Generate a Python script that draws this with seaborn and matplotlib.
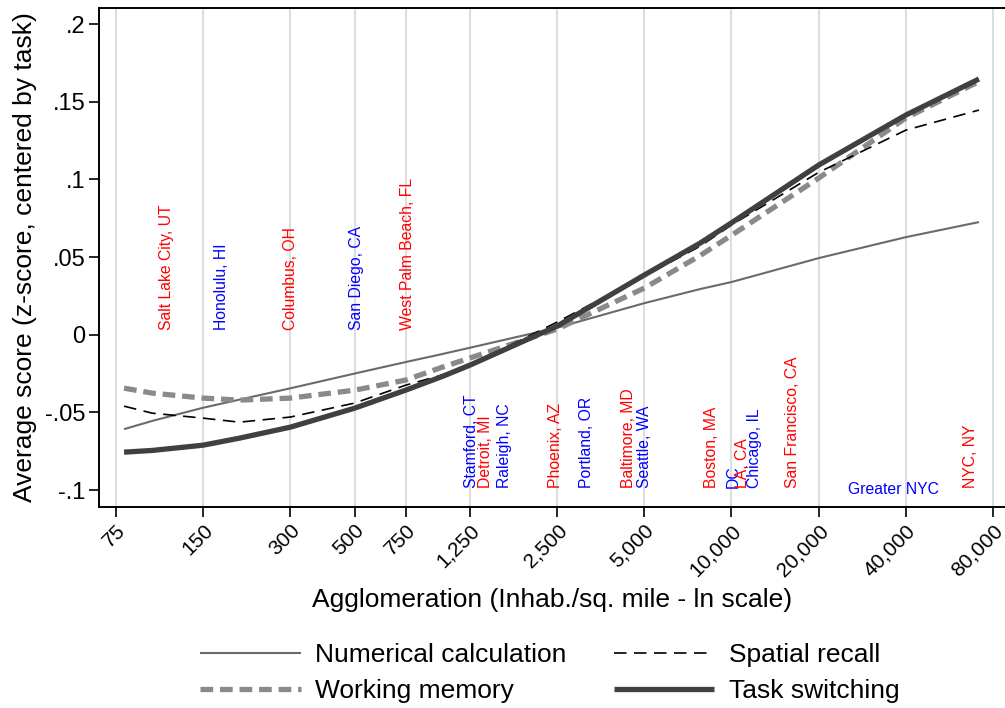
import numpy as np
import pandas as pd
import matplotlib
matplotlib.use("Agg")
import matplotlib.pyplot as plt
import seaborn as sns

# ---- data ----
density = [80, 100, 150, 200, 300, 500, 750, 1000, 1250, 2500, 5000, 7800, 10000, 20000, 40000, 71500]
numerical = [-0.0608, -0.0555, -0.0470, -0.0418, -0.0345, -0.0250, -0.0176, -0.0125, -0.0084, 0.0045, 0.0203, 0.0294, 0.0339, 0.0493, 0.0628, 0.0725]
spatial = [-0.0460, -0.0505, -0.0537, -0.0563, -0.0530, -0.0440, -0.0325, -0.0260, -0.0196, 0.0081, 0.0377, 0.0570, 0.0706, 0.1045, 0.1317, 0.1446]
working = [-0.0344, -0.0376, -0.0408, -0.0421, -0.0408, -0.0357, -0.0292, -0.0210, -0.0150, 0.0036, 0.0300, 0.0510, 0.0640, 0.1008, 0.1395, 0.1630]
switching = [-0.0756, -0.0745, -0.0711, -0.0666, -0.0595, -0.0473, -0.0357, -0.0270, -0.0196, 0.0055, 0.0384, 0.0590, 0.0720, 0.1092, 0.1414, 0.1646]

xticks = [75, 150, 300, 500, 750, 1250, 2500, 5000, 10000, 20000, 40000, 80000]
yticks = [-0.1, -0.05, 0, 0.05, 0.1, 0.15, 0.2]
ytick_labels = ["-.1", "-.05", "0", ".05", ".1", ".15", ".2"]

cities = ["Salt Lake City, UT", "Honolulu, HI", "Columbus, OH", "San Diego, CA", "West Palm Beach, FL",
          "Stamford, CT", "Detroit, MI", "Raleigh, NC", "Phoenix, AZ", "Portland, OR",
          "Baltimore, MD", "Seattle, WA", "Boston, MA", "DC", "LA, CA", "Chicago, IL",
          "San Francisco, CA", "NYC, NY"]
city_density = [112, 174, 301, 509, 764, 1268, 1420, 1652, 2478, 3170, 4425, 5027, 8563, 10118, 10912, 12052, 16305, 66900]
city_y = [0.003, 0.003, 0.003, 0.003, 0.003, -0.0988, -0.0988, -0.0988, -0.0988, -0.0988,
          -0.0988, -0.0988, -0.0988, -0.0988, -0.0988, -0.0988, -0.0988, -0.0988]
city_color = ["red", "blue", "red", "blue", "red", "blue", "red", "blue", "red", "blue",
              "red", "blue", "red", "blue", "red", "blue", "red", "red"]
greater_nyc = ("Greater NYC", 36100, -0.1046, "blue")

# ---- style ----
sns.set_theme(style="white")
plt.rcParams["font.family"] = ["Liberation Sans", "DejaVu Sans"]
plt.rcParams["text.color"] = "black"
plt.rcParams["axes.labelcolor"] = "black"
plt.rcParams["xtick.color"] = "black"
plt.rcParams["ytick.color"] = "black"

fig = plt.figure(figsize=(10.05, 7.08), dpi=100)
ax = fig.add_axes([0.099, 0.2839, 0.901, 0.7048])

series = [
    ("Numerical calculation", numerical, "#6a6a6a", 1.5, None),
    ("Working memory", working, "#8a8a8a", 3.8, (2.4, 1.3)),
    ("Spatial recall", spatial, "black", 1.2, (7.5, 4.5)),
    ("Task switching", switching, "#404040", 3.8, None),
]
handles = {}
for name, vals, col, lw, dash in series:
    sns.lineplot(x=density, y=vals, ax=ax, color=col, linewidth=lw, label=name, legend=False)
    ln = ax.lines[-1]
    if dash is not None:
        ln.set_dashes(dash)
    ln.set_solid_capstyle("butt")
    ln.set_dash_capstyle("butt")
    ln.set_solid_joinstyle("round")
    handles[name] = ln

ax.set_xscale("log")
ax.set_xlim(65.8, 87960)
ax.set_ylim(-0.1109, 0.2103)
ax.set_xticks(xticks)
ax.set_xticklabels([f"{t:,}" for t in xticks], rotation=45, ha="right", rotation_mode="anchor", fontsize=15)
ax.xaxis.set_minor_locator(matplotlib.ticker.NullLocator())
ax.set_yticks(yticks)
ax.set_yticklabels(ytick_labels, fontsize=17)

ax.grid(axis="x", color="#dedede", linewidth=1.5)
ax.grid(axis="y", visible=False)
ax.set_axisbelow(True)

for s in ["left", "bottom", "top"]:
    ax.spines[s].set_color("black")
    ax.spines[s].set_linewidth(1.4)
ax.spines["right"].set_visible(False)
ax.tick_params(axis="both", direction="out", length=7, width=1.2, color="black", bottom=True, left=True)
ax.tick_params(axis="x", pad=3)
ax.tick_params(axis="y", pad=3)

ax.set_xlabel("Agglomeration (Inhab./sq. mile - ln scale)", fontsize=19, labelpad=6)
ax.set_ylabel("Average score (z-score, centered by task)", fontsize=19, labelpad=6)

for name, d, yv, c in zip(cities, city_density, city_y, city_color):
    ax.text(d, yv, name, rotation=90, ha="center", va="bottom", color=c, fontsize=11.3)
ax.text(greater_nyc[1], greater_nyc[2], greater_nyc[0], ha="center", va="bottom", color=greater_nyc[3], fontsize=11.3)

order = ["Numerical calculation", "Working memory", "Spatial recall", "Task switching"]
fig.legend([handles[n] for n in order], order, loc="center", bbox_to_anchor=(550 / 1005, 1 - 673 / 708),
           ncol=2, frameon=False, fontsize=19, handlelength=3.8, handletextpad=0.55,
           columnspacing=1.8, labelspacing=0.45)

fig.savefig("out.png", dpi=100)
